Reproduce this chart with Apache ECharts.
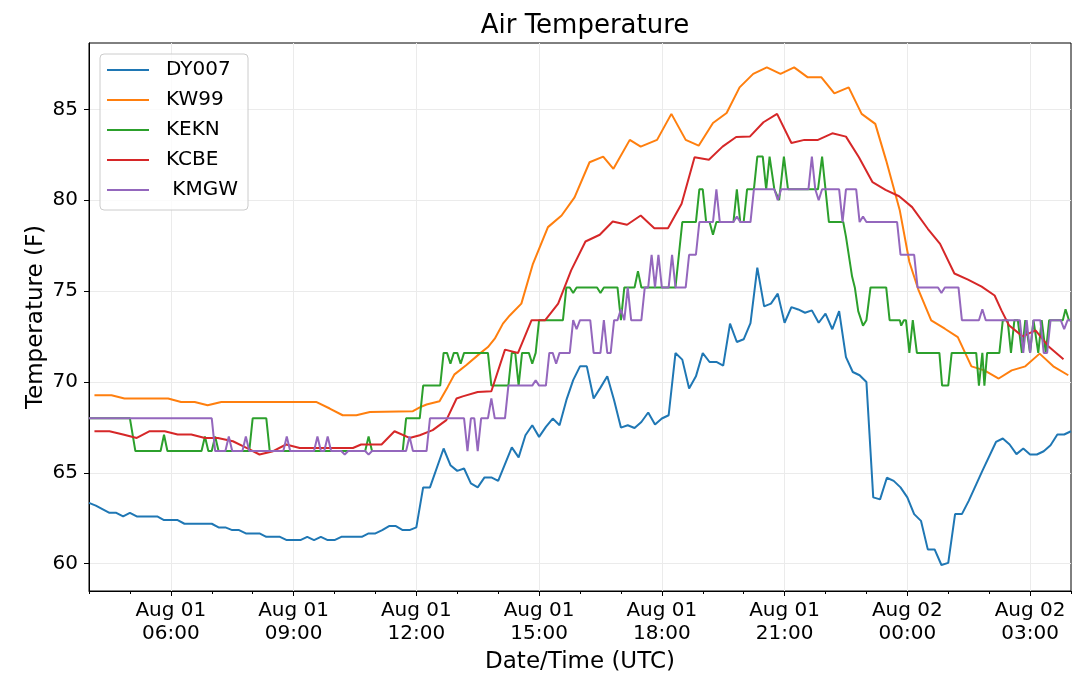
<!DOCTYPE html>
<html>
<head>
<meta charset="utf-8">
<title>Air Temperature</title>
<script src="https://cdn.jsdelivr.net/npm/echarts@6.0.0/dist/echarts.min.js"></script>
<style>
  html, body { margin: 0; padding: 0; background: #fff; }
  #chart { width: 1080px; height: 676px; }
</style>
</head>
<body>
<div id="chart"></div>
<script>
// x values are minutes after Aug 01 04:00 UTC, y values are deg F
const stationNames = ['DY007', 'KW99', 'KEKN', 'KCBE', ' KMGW'];
const stationColors = ['#1f77b4', '#ff7f0e', '#2ca02c', '#d62728', '#9467bd'];

const dy007 = [
    [0, 63.35], [10, 63.2], [30, 62.8], [40, 62.8], [50, 62.6], [60, 62.8], [70, 62.6], [100, 62.6],
    [110, 62.4], [130, 62.4], [140, 62.2], [180, 62.2], [190, 62.0], [200, 62.0], [210, 61.85], [220, 61.85],
    [230, 61.67], [250, 61.67], [260, 61.48], [280, 61.48], [290, 61.3], [310, 61.3], [320, 61.48], [330, 61.3],
    [340, 61.48], [350, 61.3], [360, 61.3], [370, 61.48], [400, 61.48], [410, 61.67], [420, 61.67], [430, 61.85],
    [440, 62.07], [450, 62.07], [460, 61.85], [470, 61.85], [480, 62.0], [490, 64.2], [500, 64.2], [520, 66.34],
    [530, 65.42], [540, 65.11], [550, 65.24], [560, 64.42], [570, 64.2], [580, 64.75], [590, 64.75], [600, 64.56],
    [620, 66.4], [630, 65.85], [640, 67.07], [650, 67.62], [660, 66.98], [670, 67.53], [680, 67.99], [690, 67.62],
    [700, 69.0], [710, 70.1], [720, 70.86], [730, 70.86], [740, 69.09], [750, 69.69], [760, 70.31], [770, 69.0],
    [780, 67.49], [790, 67.62], [800, 67.47], [810, 67.8], [820, 68.32], [830, 67.66], [840, 67.99], [850, 68.17],
    [860, 71.59], [870, 71.23], [880, 69.64], [890, 70.31], [900, 71.59], [910, 71.1], [920, 71.1], [930, 70.9],
    [940, 73.21], [950, 72.2], [960, 72.35], [970, 73.24], [980, 76.29], [990, 74.16], [1000, 74.31], [1010, 74.86],
    [1020, 73.26], [1030, 74.12], [1040, 73.99], [1050, 73.81], [1060, 73.94], [1070, 73.26], [1080, 73.76], [1090, 72.9],
    [1100, 73.9], [1110, 71.37], [1120, 70.55], [1130, 70.37], [1140, 70.0], [1150, 63.65], [1160, 63.54], [1170, 64.73],
    [1180, 64.56], [1190, 64.2], [1200, 63.65], [1210, 62.73], [1220, 62.36], [1230, 60.79], [1240, 60.79], [1250, 59.93],
    [1260, 60.05], [1270, 62.73], [1280, 62.73], [1290, 63.46], [1310, 65.11], [1330, 66.7], [1340, 66.89], [1350, 66.56],
    [1360, 66.03], [1370, 66.34], [1380, 66.01], [1390, 66.01], [1400, 66.19], [1410, 66.52], [1420, 67.11], [1430, 67.11],
    [1440, 67.29]
];

const kw99 = [
    [8, 69.27], [33, 69.27], [52, 69.09], [116, 69.09], [135, 68.9], [155, 68.9], [174, 68.72], [194, 68.9],
    [333, 68.9], [353, 68.54], [372, 68.17], [392, 68.17], [412, 68.35], [475, 68.39], [485, 68.6], [495, 68.76],
    [514, 68.94], [526, 69.73], [536, 70.42], [553, 70.92], [573, 71.56], [585, 71.92], [595, 72.38], [607, 73.21],
    [617, 73.66], [634, 74.31], [651, 76.5], [673, 78.52], [693, 79.16], [712, 80.16], [734, 82.09], [754, 82.4],
    [769, 81.73], [793, 83.32], [809, 82.95], [833, 83.32], [854, 84.75], [875, 83.32], [894, 83.0], [915, 84.25],
    [935, 84.8], [954, 86.21], [974, 86.95], [994, 87.31], [1014, 86.95], [1034, 87.31], [1054, 86.76], [1074, 86.76],
    [1093, 85.88], [1114, 86.21], [1133, 84.75], [1153, 84.2], [1169, 82.18], [1189, 79.43], [1203, 76.6], [1216, 75.1],
    [1235, 73.39], [1255, 72.93], [1274, 72.47], [1294, 70.86], [1313, 70.64], [1334, 70.19], [1353, 70.64], [1373, 70.86],
    [1394, 71.56], [1414, 70.86], [1436, 70.37]
];

const kekn = [
    [0, 68.0], [60, 68.0], [68, 66.2], [105, 66.2], [110, 67.1], [115, 66.2], [165, 66.2], [170, 67.0],
    [175, 66.2], [180, 66.2], [185, 67.0], [190, 66.2], [235, 66.2], [240, 68.0], [260, 68.0], [265, 66.2],
    [405, 66.2], [410, 67.0], [415, 66.2], [460, 66.2], [465, 68.0], [485, 68.0], [490, 69.8], [515, 69.8],
    [520, 71.6], [525, 71.6], [530, 71.0], [535, 71.6], [540, 71.6], [545, 71.0], [550, 71.6], [585, 71.6],
    [590, 69.8], [615, 69.8], [620, 71.6], [625, 71.6], [630, 69.8], [635, 71.6], [645, 71.6], [650, 71.0],
    [655, 71.6], [660, 73.4], [695, 73.4], [700, 75.2], [705, 75.2], [710, 74.9], [715, 75.2], [745, 75.2],
    [750, 74.9], [755, 75.2], [775, 75.2], [780, 73.4], [785, 75.2], [800, 75.2], [805, 76.1], [810, 75.2],
    [860, 75.2], [865, 77.0], [870, 78.8], [890, 78.8], [895, 80.6], [900, 80.6], [905, 78.8], [910, 78.8],
    [915, 78.1], [920, 78.8], [945, 78.8], [950, 80.6], [955, 78.8], [960, 78.8], [965, 80.6], [975, 80.6],
    [980, 82.4], [988, 82.4], [993, 80.6], [998, 82.4], [1005, 80.6], [1012, 80.0], [1019, 82.4], [1025, 80.6],
    [1069, 80.6], [1075, 82.4], [1080, 80.6], [1085, 78.8], [1106, 78.8], [1110, 78.0], [1119, 75.8], [1123, 75.2],
    [1128, 73.9], [1135, 73.1], [1140, 73.4], [1146, 75.2], [1169, 75.2], [1174, 73.4], [1189, 73.4], [1191, 73.1],
    [1195, 73.4], [1198, 73.4], [1203, 71.6], [1208, 73.4], [1214, 71.6], [1247, 71.6], [1251, 69.8], [1260, 69.8],
    [1265, 71.6], [1301, 71.6], [1305, 69.8], [1310, 71.6], [1313, 69.8], [1317, 71.6], [1335, 71.6], [1340, 73.4],
    [1347, 73.4], [1352, 71.6], [1357, 73.4], [1362, 73.4], [1368, 71.6], [1373, 73.4], [1380, 71.6], [1385, 73.4],
    [1392, 71.6], [1397, 73.4], [1403, 71.6], [1408, 73.4], [1428, 73.4], [1432, 74.0], [1437, 73.4], [1440, 73.4]
];

const kcbe = [
    [8, 67.29], [30, 67.29], [50, 67.11], [70, 66.92], [89, 67.29], [111, 67.29], [130, 67.11], [150, 67.11],
    [170, 66.92], [189, 66.92], [211, 66.74], [231, 66.37], [250, 66.01], [270, 66.19], [289, 66.56], [309, 66.37],
    [387, 66.37], [399, 66.56], [429, 66.56], [448, 67.29], [470, 66.92], [485, 67.07], [504, 67.35], [524, 67.9],
    [539, 69.09], [548, 69.21], [570, 69.45], [590, 69.49], [610, 71.78], [629, 71.59], [649, 73.4], [669, 73.4],
    [688, 74.31], [707, 76.14], [728, 77.73], [749, 78.1], [768, 78.83], [789, 78.65], [809, 79.16], [829, 78.46],
    [849, 78.46], [869, 79.8], [888, 82.36], [909, 82.23], [929, 82.95], [949, 83.48], [969, 83.5], [989, 84.29],
    [1009, 84.75], [1030, 83.15], [1049, 83.32], [1069, 83.32], [1090, 83.68], [1110, 83.5], [1129, 82.36], [1149, 80.99],
    [1168, 80.57], [1188, 80.22], [1207, 79.62], [1230, 78.43], [1248, 77.6], [1269, 75.97], [1289, 75.63], [1309, 75.25],
    [1328, 74.76], [1338, 73.94], [1349, 73.12], [1369, 72.51], [1388, 72.84], [1408, 71.92], [1429, 71.25]
];

const kmgw = [
    [0, 68.0], [180, 68.0], [185, 66.2], [200, 66.2], [205, 67.0], [210, 66.2], [225, 66.2], [230, 67.0],
    [235, 66.2], [285, 66.2], [290, 67.0], [295, 66.2], [330, 66.2], [335, 67.0], [340, 66.2], [345, 66.2],
    [350, 67.0], [355, 66.2], [370, 66.2], [375, 66.0], [380, 66.2], [405, 66.2], [410, 66.0], [415, 66.2],
    [465, 66.2], [470, 67.0], [475, 66.2], [495, 66.2], [500, 68.0], [550, 68.0], [555, 66.2], [560, 68.0],
    [565, 68.0], [570, 66.2], [575, 68.0], [585, 68.0], [590, 69.1], [595, 68.0], [610, 68.0], [615, 69.8],
    [650, 69.8], [655, 70.1], [660, 69.8], [670, 69.8], [675, 71.6], [680, 71.6], [685, 71.0], [690, 71.6],
    [705, 71.6], [710, 73.4], [715, 72.9], [720, 73.4], [735, 73.4], [740, 71.6], [750, 71.6], [755, 73.4],
    [760, 71.6], [765, 71.6], [770, 73.4], [775, 73.4], [780, 74.0], [785, 73.4], [790, 75.2], [795, 73.4],
    [810, 73.4], [815, 75.2], [820, 75.2], [825, 77.0], [830, 75.2], [835, 77.0], [840, 75.2], [850, 75.2],
    [855, 77.0], [860, 75.2], [875, 75.2], [880, 77.0], [890, 77.0], [895, 78.8], [915, 78.8], [920, 80.6],
    [925, 78.8], [945, 78.8], [950, 79.1], [955, 78.8], [970, 78.8], [975, 80.6], [1005, 80.6], [1010, 80.0],
    [1015, 80.6], [1055, 80.6], [1060, 82.4], [1065, 80.6], [1070, 80.0], [1075, 80.6], [1100, 80.6], [1105, 78.8],
    [1110, 80.6], [1125, 80.6], [1130, 78.8], [1135, 79.1], [1140, 78.8], [1185, 78.8], [1190, 77.0], [1210, 77.0],
    [1215, 75.2], [1245, 75.2], [1250, 74.9], [1255, 75.2], [1275, 75.2], [1280, 73.4], [1305, 73.4], [1310, 74.0],
    [1315, 73.4], [1365, 73.4], [1370, 71.6], [1375, 73.4], [1380, 71.6], [1385, 73.4], [1395, 73.4], [1400, 71.6],
    [1405, 71.6], [1410, 73.4], [1425, 73.4], [1430, 72.9], [1435, 73.4], [1440, 73.4]
];

const stationData = [dy007, kw99, kekn, kcbe, kmgw];

// ticks: every 3 hours labelled, every hour a minor tick
const majorTicks = [120, 300, 480, 660, 840, 1020, 1200, 1380];
const minorTicks = [0, 60, 180, 240, 360, 420, 540, 600, 720, 780, 900, 960, 1080, 1140, 1260, 1320, 1440];
const yTicks = [60, 65, 70, 75, 80, 85];

const fontFamily = 'DejaVu Sans';

function timeLabel(minutes) {
    let total = 240 + minutes;
    let day = total >= 1440 ? '02' : '01';
    let hour = Math.floor((total % 1440) / 60);
    return 'Aug ' + day + '\n' + (hour < 10 ? '0' : '') + hour + ':00';
}

let chart = echarts.init(document.getElementById('chart'), null, { renderer: 'canvas' });

let series = stationNames.map(function (name, i) {
    return {
        name: name,
        type: 'line',
        data: stationData[i],
        symbol: 'none',
        showSymbol: false,
        lineStyle: { color: stationColors[i], width: 2 },
        itemStyle: { color: stationColors[i] },
        emphasis: { disabled: true }
    };
});

let option = {
    animation: false,
    backgroundColor: '#fff',
    textStyle: { fontFamily: fontFamily, color: '#000' },
    title: {
        text: 'Air Temperature',
        left: 580,
        top: 8,
        textAlign: 'center',
        textStyle: { fontFamily: fontFamily, fontSize: 26, fontWeight: 'normal', color: '#000' }
    },
    legend: {
        orient: 'vertical',
        left: 100,
        top: 54,
        padding: [6, 10, 10, 7],
        icon: 'rect',
        itemWidth: 42,
        itemHeight: 2,
        itemGap: 10,
        backgroundColor: 'rgba(255,255,255,0.8)',
        borderColor: '#cccccc',
        borderWidth: 1,
        borderRadius: 4,
        selectedMode: false,
        itemStyle: { borderWidth: 0 },
        textStyle: {
            fontFamily: fontFamily,
            fontSize: 20,
            lineHeight: 20,
            color: '#000',
            padding: [0, 0, 0, 12]
        },
        data: stationNames
    },
    grid: {
        left: 89,
        right: 9,
        top: 43,
        bottom: 85,
        show: true,
        borderColor: '#000',
        borderWidth: 1,
        containLabel: false,
        outerBoundsMode: 'none'
    },
    xAxis: [
        {
            type: 'value',
            min: 0,
            max: 1440,
            name: 'Date/Time (UTC)',
            nameLocation: 'middle',
            nameGap: 60,
            nameMoveOverlap: false,
            nameTextStyle: { fontFamily: fontFamily, fontSize: 23, color: '#000' },
            axisLine: { show: true, lineStyle: { color: '#000', width: 1 } },
            axisTick: { show: true, length: 5, customValues: majorTicks, lineStyle: { color: '#000' } },
            axisLabel: {
                customValues: majorTicks,
                formatter: timeLabel,
                margin: 8,
                fontFamily: fontFamily,
                fontSize: 20,
                lineHeight: 23,
                color: '#000'
            },
            splitLine: { show: true, lineStyle: { color: '#ebebeb', width: 1 } }
        },
        {
            type: 'value',
            min: 0,
            max: 1440,
            position: 'bottom',
            axisLine: { show: false },
            axisTick: { show: true, length: 3, customValues: minorTicks, lineStyle: { color: '#000' } },
            axisLabel: { show: false },
            splitLine: { show: false }
        }
    ],
    yAxis: {
        type: 'value',
        min: 58.5,
        max: 88.65,
        name: 'Temperature (F)',
        nameLocation: 'middle',
        nameGap: 41,
        nameMoveOverlap: false,
        nameTextStyle: { fontFamily: fontFamily, fontSize: 23, color: '#000' },
        axisLine: { show: true, lineStyle: { color: '#000', width: 1 } },
        axisTick: { show: true, length: 5, customValues: yTicks, lineStyle: { color: '#000' } },
        axisLabel: {
            customValues: yTicks,
            margin: 11,
            fontFamily: fontFamily,
            fontSize: 20,
            color: '#000'
        },
        splitLine: { show: true, lineStyle: { color: '#ebebeb', width: 1 } }
    },
    series: series
};

chart.setOption(option);
</script>
</body>
</html>
